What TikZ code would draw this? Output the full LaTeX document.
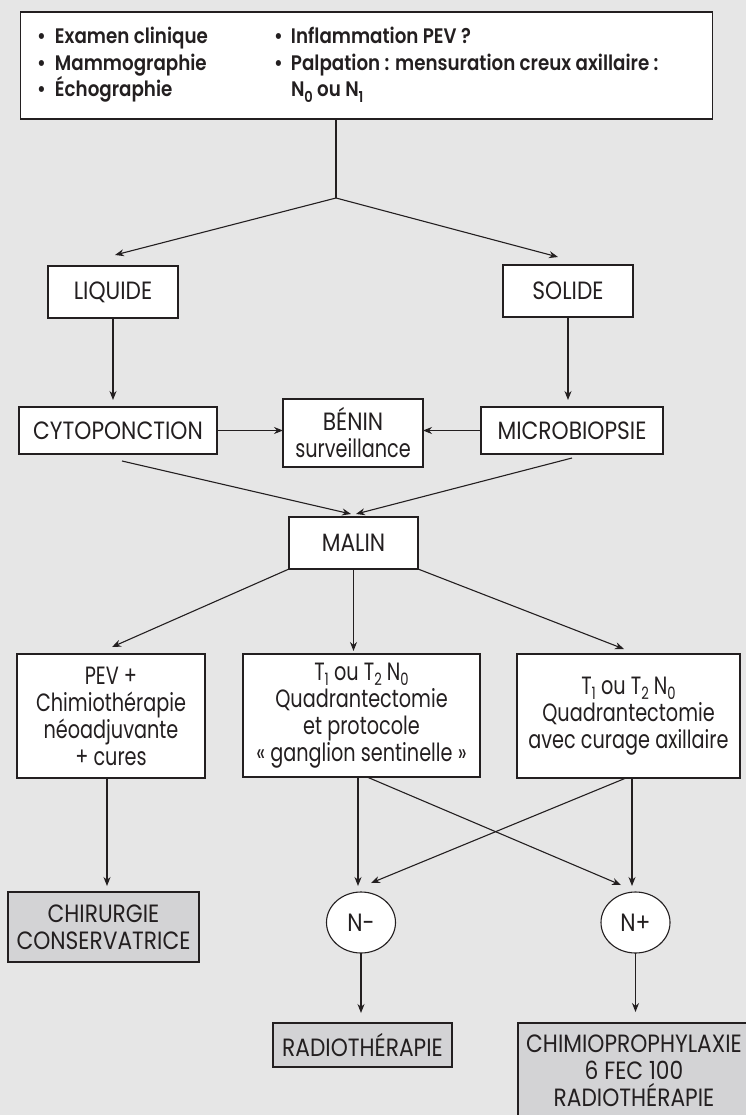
\documentclass[tikz,border=0pt]{standalone}
\usepackage{fontspec}
\setmainfont{Poppins}[FakeStretch=0.87, BoldFont={Poppins SemiBold}]
\newfontfamily\narrowfont{Poppins}[FakeStretch=0.77]
\usetikzlibrary{arrows.meta,shapes.geometric,calc}
\definecolor{bg}{HTML}{E6E6E6}
\definecolor{ink}{HTML}{231F20}
\definecolor{grayfill}{HTML}{D3D3D5}
\newcommand\lowidx[1]{\raisebox{-0.4ex}{\fontsize{17}{17}\selectfont #1}}
\newcommand\blowidx[1]{\raisebox{-0.45ex}{\fontsize{15}{15}\selectfont #1}}
\newcommand\reg{\fontsize{25}{27}\selectfont}
\newcommand\nreg{\narrowfont\fontsize{25}{27}\selectfont}
\newcommand\bld{\fontsize{21}{26.5}\selectfont\bfseries}
\begin{document}
\begin{tikzpicture}[x=1pt,y=-1pt,
  every node/.style={inner sep=0pt, outer sep=0pt, text=ink},
  box/.style={draw=ink, fill=white, line width=1.1pt, align=center, font=\reg},
  nbox/.style={box, font=\nreg},
  gbox/.style={box, fill=grayfill},
  ell/.style={ellipse, draw=ink, fill=white, line width=1.1pt, font=\reg, minimum width=69pt, minimum height=61pt},
  txt/.style={anchor=base west, font=\bld},
  ln/.style={draw=ink, line width=1.1pt},
  arr/.style={draw=ink, line width=1.1pt, -{Stealth[length=9pt,width=7pt]}}]
\fill[bg] (0,0) rectangle (746,1115);
\useasboundingbox (0,0) rectangle (746,1115);
% top box
\node[box, minimum width=692pt, minimum height=107pt] (top) at (366.85,65.5) {};
\node[txt] (t1) at (37,44) {\makebox[18pt][l]{•}Examen clinique};
\node[txt] (t2) at (37,70.5) {\makebox[18pt][l]{•}Mammographie};
\node[txt] (t3) at (37,97) {\makebox[18pt][l]{•}Échographie};
\node[txt] (t4) at (274,44) {\makebox[17pt][l]{•}Inflammation PEV ?};
\node[txt] (t5) at (274,70.5) {\makebox[17pt][l]{•}Palpation : mensuration creux axillaire :};
\node[txt] (t6) at (274,97) {\makebox[17pt][l]{}N\blowidx{0} ou N\blowidx{1}};
% level 2
\node[box, minimum width=130pt, minimum height=52pt] (liq) at (113,292) {LIQUIDE};
\node[box, minimum width=130pt, minimum height=52pt] (sol) at (568,291) {SOLIDE};
% level 3
\node[box, minimum width=198pt, minimum height=47pt] (cyto) at (118,430.5) {CYTOPONCTION};
\node[box, minimum width=140pt, minimum height=68pt] (benin) at (353,433) {BÉNIN\\{\nreg surveillance}};
\node[box, minimum width=182pt, minimum height=47pt] (micro) at (572,430.5) {MICROBIOPSIE};
% malin
\node[box, minimum width=129pt, minimum height=52pt] (malin) at (353.5,543) {MALIN};
% level 5
\node[nbox, minimum width=188pt, minimum height=124pt] (pev) at (111,716) {PEV +\\Chimiothérapie\\néoadjuvante\\+ cures};
\node[nbox, minimum width=237pt, minimum height=123pt] (mid) at (361.5,715.5) {T\lowidx{1} ou T\lowidx{2} N\lowidx{0}\\Quadrantectomie\\et protocole\\« ganglion sentinelle »};
\node[nbox, minimum width=223pt, minimum height=124pt] (rgt) at (628.5,716) {T\lowidx{1} ou T\lowidx{2} N\lowidx{0}\\Quadrantectomie\\avec curage axillaire};
% level 6
\node[gbox, minimum width=191pt, minimum height=70pt] (chir) at (103.5,927) {CHIRURGIE\\CONSERVATRICE};
\node[ell] (nm) at (361,922.5) {N-};
\node[ell] (np) at (635.5,922.5) {N+};
% level 7
\node[gbox, minimum width=179pt, minimum height=44pt] (radio) at (362.5,1045) {RADIOTHÉRAPIE};
\node[gbox, minimum width=232pt, minimum height=96pt] (chimio) at (634,1071) {CHIMIOPROPHYLAXIE\\6 FEC 100\\RADIOTHÉRAPIE};
% connectors
\coordinate (j) at (336,198);
\draw[ln] (top.south -| j) -- (j);
\draw[arr] (j) -- ($(liq.north)+(2,-11)$);
\draw[arr] (j) -- ($(sol.north)+(-10,-8)$);
\draw[arr] (liq.south) -- ($(liq.south |- cyto.north)+(0,-7)$);
\draw[arr] (sol.south) -- ($(sol.south |- micro.north)+(0,-7)$);
\draw[arr] (cyto.east) -- (cyto.east -| benin.west);
\draw[arr] (micro.west) -- (micro.west -| benin.east);
\draw[arr] ($(cyto.south)+(4,7)$) -- ($(malin.north)+(-2.5,-3)$);
\draw[arr] ($(micro.south)+(0,4)$) -- ($(malin.north)+(2.5,-3)$);
\draw[arr] (malin.south west) -- ($(pev.north)+(1,-7)$);
\draw[arr] (malin.south) -- ($(malin.south |- mid.north)+(0,-3)$);
\draw[arr] (malin.south east) -- ($(rgt.north)+(-4.5,-5)$);
\draw[arr] ($(pev.south)+(-4,0)$) -- ($(chir.north)+(3.5,-6)$);
\draw[arr] ($(mid.south)+(-3.5,0)$) -- ($(nm.north)+(-3,-6)$);
\draw[arr] ($(mid.south)+(5.5,0)$) -- ($(np.north)+(-14.5,-7)$);
\draw[arr] ($(rgt.south)+(3.5,0)$) -- ($(np.north)+(-3.5,-6)$);
\draw[arr] ($(rgt.south)+(-2.5,0)$) -- ($(nm.north)+(10,-9)$);
\draw[arr] (nm.south) -- ($(radio.north)+(-1.5,-10)$);
\draw[arr] (np.south) -- ($(np.south |- chimio.north)+(0,-11)$);
\end{tikzpicture}
\end{document}
